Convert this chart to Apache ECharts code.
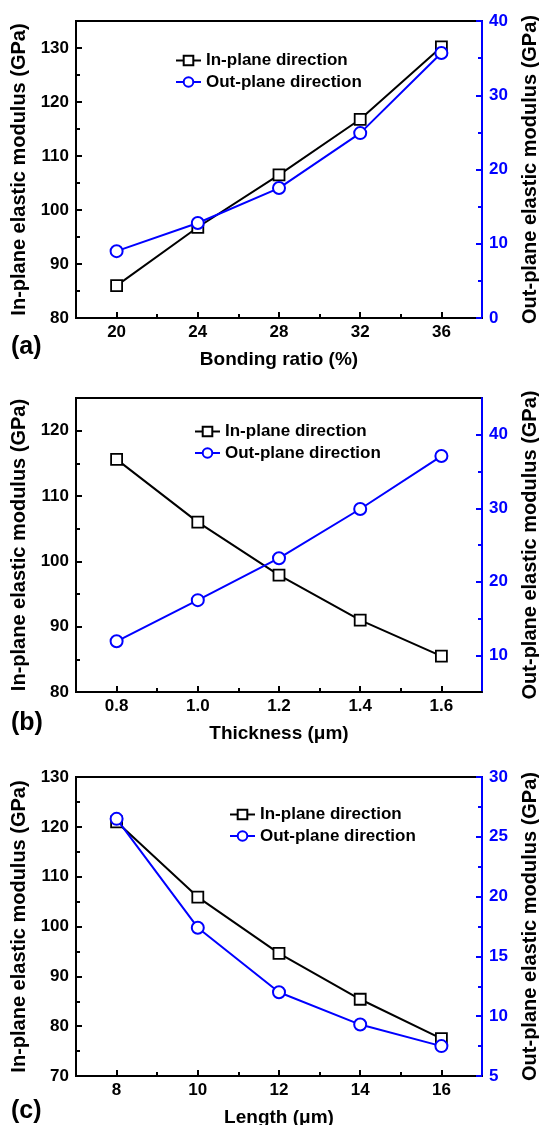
<!DOCTYPE html>
<html>
<head>
<meta charset="utf-8">
<script src="https://cdn.jsdelivr.net/npm/echarts@6/dist/echarts.min.js"></script>
<style>
  html, body { margin: 0; padding: 0; background: #fff; }
  #chart { width: 539px; height: 1125px; }
</style>
</head>
<body>
<div id="chart"></div>
<script>
// Series names
const IN_NAME = 'In-plane direction';
const OUT_NAME = 'Out-plane direction';

// (a) Bonding ratio (%)
const bondingRatio = [20, 24, 28, 32, 36];
const inPlaneA = [86.0, 96.8, 106.5, 116.8, 130.2];
const outPlaneA = [9.0, 12.8, 17.5, 24.9, 35.7];
const ticksAx = [20, 24, 28, 32, 36];
const minorAx = [22, 26, 30, 34];
const ticksAl = [80, 90, 100, 110, 120, 130];
const minorAl = [85, 95, 105, 115, 125];
const ticksAr = [0, 10, 20, 30, 40];
const minorAr = [5, 15, 25, 35];

// (b) Thickness (µm)
const thickness = [0.8, 1.0, 1.2, 1.4, 1.6];
const inPlaneB = [115.6, 106.0, 97.9, 91.0, 85.5];
const outPlaneB = [11.9, 17.5, 23.2, 29.9, 37.1];
const ticksBx = [0.8, 1.0, 1.2, 1.4, 1.6];
const minorBx = [0.9, 1.1, 1.3, 1.5];
const ticksBl = [80, 90, 100, 110, 120];
const minorBl = [85, 95, 105, 115];
const ticksBr = [10, 20, 30, 40];
const minorBr = [15, 25, 35];

// (c) Length (µm)
const lengthUm = [8, 10, 12, 14, 16];
const inPlaneC = [121.0, 105.9, 94.6, 85.4, 77.5];
const outPlaneC = [26.5, 17.4, 12.0, 9.3, 7.5];
const ticksCx = [8, 10, 12, 14, 16];
const minorCx = [9, 11, 13, 15];
const ticksCl = [70, 80, 90, 100, 110, 120, 130];
const minorCl = [75, 85, 95, 105, 115, 125];
const ticksCr = [5, 10, 15, 20, 25, 30];
const minorCr = [7.5, 12.5, 17.5, 22.5, 27.5];

const FONT = '"Liberation Sans", Arial, Helvetica, sans-serif';
const BLACK = '#000000';
const BLUE = '#0000ff';

const panels = [
  { tag: '(a)', xName: 'Bonding ratio (%)', x: bondingRatio, inP: inPlaneA, outP: outPlaneA,
    xr: [18, 38], lr: [80, 135], rr: [0, 40],
    xt: ticksAx, xm: minorAx, lt: ticksAl, lm: minorAl, rt: ticksAr, rm: minorAr, dec: 0,
    top: 21, height: 297, legendLeft: 175, legendTop: 52, tagTop: 335 },
  { tag: '(b)', xName: 'Thickness (\u03bcm)', x: thickness, inP: inPlaneB, outP: outPlaneB,
    xr: [0.7, 1.7], lr: [80, 125], rr: [5, 45],
    xt: ticksBx, xm: minorBx, lt: ticksBl, lm: minorBl, rt: ticksBr, rm: minorBr, dec: 1,
    top: 398, height: 294, legendLeft: 194, legendTop: 423, tagTop: 711 },
  { tag: '(c)', xName: 'Length (\u03bcm)', x: lengthUm, inP: inPlaneC, outP: outPlaneC,
    xr: [7, 17], lr: [70, 130], rr: [5, 30],
    xt: ticksCx, xm: minorCx, lt: ticksCl, lm: minorCl, rt: ticksCr, rm: minorCr, dec: 0,
    top: 777, height: 299, legendLeft: 229, legendTop: 806, tagTop: 1099 }
];

const labelStyle = (color) => ({ fontFamily: FONT, fontWeight: 'bold', fontSize: 17, color: color });

const grid = [], xAxis = [], yAxis = [], series = [], legend = [], title = [];

panels.forEach((p, i) => {
  grid.push({
    left: 76, right: 57, top: p.top, height: p.height,
    outerBoundsMode: 'none', containLabel: false,
    show: true, borderColor: BLACK, borderWidth: 2, backgroundColor: 'transparent'
  });

  // main x axis with labelled ticks
  xAxis.push({
    type: 'value', gridIndex: i, min: p.xr[0], max: p.xr[1], position: 'bottom',
    name: p.xName, nameLocation: 'middle', nameGap: 32,
    nameTextStyle: { fontFamily: FONT, fontWeight: 'bold', fontSize: 19, color: BLACK },
    axisLine: { show: true, lineStyle: { color: BLACK, width: 2 } },
    axisTick: { show: true, inside: true, length: 6, customValues: p.xt, lineStyle: { color: BLACK, width: 2 } },
    axisLabel: Object.assign(labelStyle(BLACK), { margin: 6, customValues: p.xt,
      formatter: (v) => Number(v).toFixed(p.dec) }),
    splitLine: { show: false }
  });
  // minor x ticks
  xAxis.push({
    type: 'value', gridIndex: i, min: p.xr[0], max: p.xr[1], position: 'bottom',
    axisLine: { show: false },
    axisTick: { show: true, inside: true, length: 4, customValues: p.xm, lineStyle: { color: BLACK, width: 2 } },
    axisLabel: { show: false },
    splitLine: { show: false }
  });

  // left y axis (in-plane)
  yAxis.push({
    type: 'value', gridIndex: i, min: p.lr[0], max: p.lr[1], position: 'left',
    name: 'In-plane elastic modulus (GPa)', nameLocation: 'middle', nameGap: 47, nameRotate: 90,
    nameTextStyle: { fontFamily: FONT, fontWeight: 'bold', fontSize: 20, color: BLACK },
    axisLine: { show: true, lineStyle: { color: BLACK, width: 2 } },
    axisTick: { show: true, inside: true, length: 6, customValues: p.lt, lineStyle: { color: BLACK, width: 2 } },
    axisLabel: Object.assign(labelStyle(BLACK), { margin: 7, customValues: p.lt }),
    splitLine: { show: false }
  });
  // right y axis (out-plane)
  yAxis.push({
    type: 'value', gridIndex: i, min: p.rr[0], max: p.rr[1], position: 'right',
    name: 'Out-plane elastic modulus (GPa)', nameLocation: 'middle', nameGap: 38, nameRotate: 90,
    nameTextStyle: { fontFamily: FONT, fontWeight: 'bold', fontSize: 20, color: BLACK },
    axisLine: { show: true, lineStyle: { color: BLUE, width: 2 } },
    axisTick: { show: true, inside: true, length: 6, customValues: p.rt, lineStyle: { color: BLUE, width: 2 } },
    axisLabel: Object.assign(labelStyle(BLUE), { margin: 7, customValues: p.rt }),
    splitLine: { show: false }
  });
  // minor ticks, left and right
  yAxis.push({
    type: 'value', gridIndex: i, min: p.lr[0], max: p.lr[1], position: 'left',
    axisLine: { show: false },
    axisTick: { show: true, inside: true, length: 4, customValues: p.lm, lineStyle: { color: BLACK, width: 2 } },
    axisLabel: { show: false }, splitLine: { show: false }
  });
  yAxis.push({
    type: 'value', gridIndex: i, min: p.rr[0], max: p.rr[1], position: 'right',
    axisLine: { show: false },
    axisTick: { show: true, inside: true, length: 4, customValues: p.rm, lineStyle: { color: BLUE, width: 2 } },
    axisLabel: { show: false }, splitLine: { show: false }
  });

  series.push({
    name: IN_NAME, type: 'line', xAxisIndex: 2 * i, yAxisIndex: 4 * i,
    data: p.x.map((xv, k) => [xv, p.inP[k]]),
    symbol: 'rect', symbolSize: 11,
    lineStyle: { color: BLACK, width: 2 },
    itemStyle: { color: '#ffffff', borderColor: BLACK, borderWidth: 1.8 },
    emphasis: { disabled: true }, z: 3
  });
  series.push({
    name: OUT_NAME, type: 'line', xAxisIndex: 2 * i, yAxisIndex: 4 * i + 1,
    data: p.x.map((xv, k) => [xv, p.outP[k]]),
    symbol: 'circle', symbolSize: 12,
    lineStyle: { color: BLUE, width: 2 },
    itemStyle: { color: '#ffffff', borderColor: BLUE, borderWidth: 2 },
    emphasis: { disabled: true }, z: 4
  });

  legend.push({
    data: [IN_NAME, OUT_NAME], orient: 'vertical', left: p.legendLeft, top: p.legendTop,
    padding: 0, itemGap: 4.5, itemWidth: 25, itemHeight: 12,
    textStyle: { fontFamily: FONT, fontWeight: 'bold', fontSize: 17, color: BLACK },
    selectedMode: false
  });

  title.push({
    text: p.tag, left: 11, top: p.tagTop, padding: 0,
    textStyle: { fontFamily: FONT, fontWeight: 'bold', fontSize: 25, color: BLACK }
  });
});

const chart = echarts.init(document.getElementById('chart'), null, { renderer: 'canvas' });
chart.setOption({
  animation: false,
  backgroundColor: '#ffffff',
  title: title,
  legend: legend,
  grid: grid,
  xAxis: xAxis,
  yAxis: yAxis,
  series: series
});
</script>
</body>
</html>
